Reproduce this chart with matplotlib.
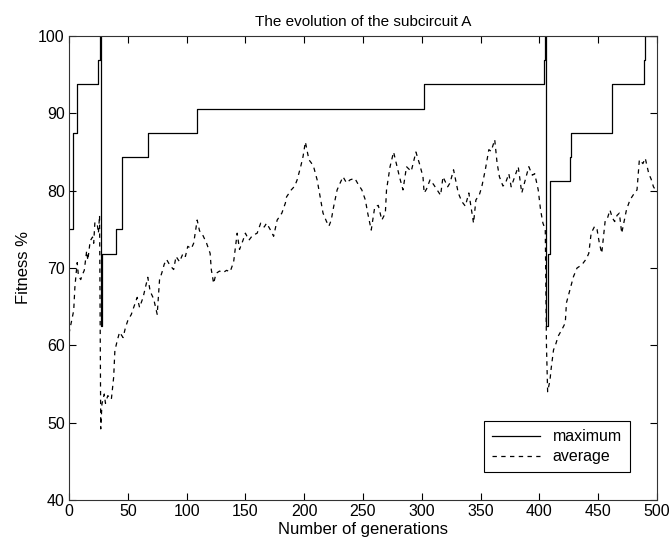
import matplotlib
matplotlib.use("Agg")
import matplotlib.pyplot as plt

# best individual per generation (step changes only)
max_gens = [0, 3, 7, 25, 26, 27, 28, 40, 45, 67, 109, 302,
            404, 405, 406, 407, 409, 426, 427, 462, 489, 490, 500]
max_vals = [75, 87.5, 93.75, 96.875, 100, 62.5, 71.875, 75, 84.375, 87.5, 90.625, 93.75,
            96.875, 100, 62.5, 71.875, 81.25, 84.375, 87.5, 93.75, 96.875, 100, 100]

# population average
avg_gens = [0, 1, 2, 4, 5, 6, 7, 8, 10, 11, 13, 15, 16, 18, 20, 21, 22, 24, 25, 26,
            27, 28, 30, 31, 33, 36, 38, 39, 41, 43, 46, 48, 50, 53, 55, 58, 60, 63, 65, 67,
            69, 72, 75, 77, 79, 81, 83, 86, 89, 91, 94, 97, 99, 101, 104, 106, 109, 111, 113, 117,
            120, 121, 123, 125, 128, 131, 134, 137, 140, 143, 145, 148, 150, 153, 156, 160, 163, 166, 168, 171,
            174, 177, 181, 184, 185, 189, 192, 194, 197, 199, 201, 204, 206, 208, 211, 214, 216, 219, 221, 223,
            225, 228, 230, 233, 236, 239, 243, 246, 249, 252, 254, 257, 260, 263, 266, 269, 270, 273, 276, 279,
            281, 284, 287, 291, 295, 298, 301, 302, 304, 307, 310, 313, 316, 318, 322, 324, 327, 331, 334, 337,
            340, 344, 346, 349, 351, 354, 357, 359, 362, 364, 366, 369, 371, 374, 376, 379, 382, 385, 388, 391,
            394, 396, 399, 401, 403, 405, 406, 407, 409, 410, 412, 414, 416, 419, 422, 423, 426, 429, 432, 435,
            437, 440, 442, 444, 447, 449, 451, 453, 456, 458, 460, 462, 464, 466, 468, 470, 472, 474, 477, 480,
            483, 485, 488, 490, 493, 495, 497, 500]
avg_vals = [61.5, 62.3, 63.0, 64.5, 67.5, 69.2, 70.7, 69.0, 68.5, 69.0, 69.7, 72.2, 71.0, 73.5, 74.0, 73.2, 75.9, 75.7, 74.5, 76.8,
            49.2, 52.4, 53.7, 52.5, 53.5, 53.0, 55.9, 59.3, 60.6, 61.7, 61.0, 62.3, 63.2, 64.0, 64.9, 66.2, 64.9, 66.2, 67.5, 68.8,
            67.0, 66.0, 64.0, 68.5, 69.4, 70.5, 71.1, 70.3, 69.8, 71.5, 70.8, 71.9, 71.5, 72.8, 72.5, 73.2, 76.2, 74.8, 74.5, 73.2,
            71.9, 69.8, 68.0, 69.3, 69.6, 69.4, 69.7, 69.5, 70.8, 74.5, 72.4, 73.6, 74.5, 73.6, 74.2, 74.5, 75.8, 75.3, 75.8, 75.0,
            74.1, 76.2, 77.1, 78.4, 79.2, 80.1, 80.6, 81.4, 83.1, 84.4, 86.3, 84.0, 83.6, 83.1, 81.4, 78.8, 77.1, 76.0, 75.4, 76.2,
            77.9, 80.1, 80.8, 81.8, 81.0, 81.4, 81.6, 80.8, 80.1, 78.8, 77.1, 74.9, 77.9, 78.1, 76.2, 77.1, 80.1, 83.1, 85.0, 83.1,
            81.8, 80.1, 83.1, 82.5, 85.0, 83.5, 81.8, 79.7, 80.2, 81.4, 80.8, 80.1, 79.4, 81.8, 80.5, 81.0, 82.7, 79.7, 78.6, 78.0,
            79.7, 75.8, 78.8, 79.5, 80.5, 82.7, 85.3, 85.1, 86.6, 83.6, 81.8, 80.6, 80.9, 82.2, 80.5, 81.8, 83.1, 79.7, 81.4, 83.1,
            82.0, 82.2, 80.1, 77.5, 75.8, 75.0, 60.0, 54.0, 55.5, 57.0, 59.4, 60.2, 61.2, 62.0, 62.9, 65.5, 67.2, 68.9, 70.0, 70.3,
            70.6, 71.2, 71.9, 74.5, 75.4, 75.0, 73.2, 71.9, 76.2, 76.5, 77.5, 76.5, 76.0, 76.8, 77.1, 74.5, 76.0, 77.5, 78.8, 79.5,
            80.1, 84.0, 83.5, 84.2, 82.2, 81.5, 80.5, 79.8]

plt.rcParams["font.family"] = ["Liberation Sans", "DejaVu Sans"]
plt.rcParams["font.size"] = 11.5

fig = plt.figure(figsize=(6.72, 5.47), dpi=100)
ax = fig.add_axes([69 / 672, 47 / 547, 588 / 672, 464 / 547])

ax.plot(max_gens, max_vals, "-k", lw=0.9, drawstyle="steps-post", label="maximum")
ax.plot(avg_gens, avg_vals, color="k", lw=0.9, linestyle=(0, (3.5, 3.5)), label="average")

ax.set_xlim(0, 500)
ax.set_ylim(40, 100)
ax.set_xticks(range(0, 501, 50))
ax.set_yticks(range(40, 101, 10))
ax.tick_params(direction="in", top=True, right=True, length=5, width=0.8, pad=3,
               labelsize=11.5)
for s in ax.spines.values():
    s.set_linewidth(0.8)
    s.set_color("#333333")

ax.set_title("The evolution of the subcircuit A", pad=7, fontsize=11)
ax.set_xlabel("Number of generations", labelpad=2, fontsize=12)
ax.set_ylabel("Fitness %", labelpad=5, fontsize=12)

leg = ax.legend(loc="lower right", bbox_to_anchor=(0.954, 0.06), borderaxespad=0,
                fancybox=False, framealpha=1, edgecolor="k", handlelength=3.0,
                borderpad=0.5, labelspacing=0.3, handletextpad=0.8, fontsize=11.5)
leg.get_frame().set_linewidth(0.8)

fig.savefig("out.png", dpi=100)
